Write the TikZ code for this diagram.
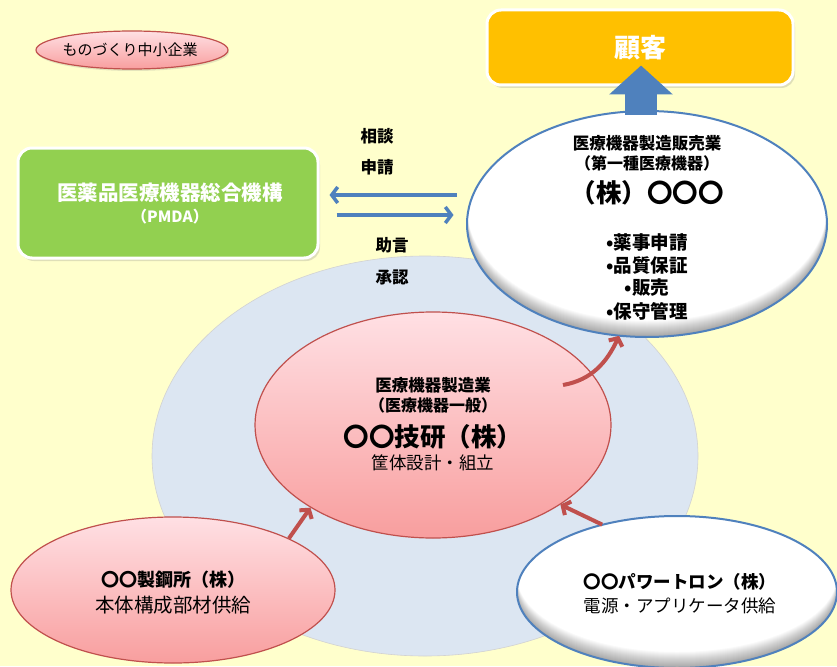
\documentclass[tikz,border=0pt]{standalone}
\usepackage{fontspec}
\setmainfont{Noto Sans CJK JP}
\usetikzlibrary{shapes.geometric,arrows.meta,shadows,calc}
\definecolor{bg}{RGB}{255,255,204}
\definecolor{pmdagreen}{RGB}{146,208,80}
\definecolor{gold}{RGB}{255,192,0}
\definecolor{accblue}{RGB}{79,129,189}
\definecolor{accred}{RGB}{192,80,77}
\definecolor{paleblue}{RGB}{220,230,242}
\definecolor{pinktop}{RGB}{255,224,228}
\definecolor{pinkbot}{RGB}{248,158,158}
\begin{document}
\begin{tikzpicture}[x=1pt,y=-1pt,
  txt/.style={font=\fontsize{#1pt}{#1pt}\selectfont, inner sep=0pt},
  btxt/.style={font=\fontsize{#1pt}{#1pt}\selectfont\bfseries, inner sep=0pt},
  pinkell/.style={ellipse, draw=accred, line width=1.2pt, top color=pinktop, bottom color=pinkbot, inner sep=0pt},
  whiteell/.style={ellipse, fill=white, inner sep=0pt},
  box/.style={rounded corners=14pt, draw=white, line width=3pt, inner sep=0pt,
     drop shadow={opacity=0.25, shadow xshift=2pt, shadow yshift=-3pt}},
  redarr/.style={draw=accred, line width=4pt, -{Straight Barb[length=6pt,width=15pt]}},
  bluearr/.style={draw=accblue, line width=3.5pt, -{Straight Barb[length=6pt,width=16pt]}},
]
\fill[bg] (0,0) rectangle (837,666);
\useasboundingbox (0,0) rectangle (837,666);

% zone
\node[ellipse, fill=paleblue, draw=gray!35, line width=0.6pt, minimum width=546pt, minimum height=400pt, inner sep=0pt] (zone) at (425,456) {};

% small legend ellipse
\node[pinkell, minimum width=192pt, minimum height=38pt, drop shadow={opacity=0.2, shadow xshift=1pt, shadow yshift=-2pt}] (legend) at (132,50) {};
\node[txt=15] (legendt) at (130,50) {ものづくり中小企業};

% PMDA
\node[box, fill=pmdagreen, minimum width=300pt, minimum height=110pt] (pmda) at (168,203) {};
\node[btxt=20.5, text=white] (pmdat1) at (170,193) {医薬品医療機器総合機構};
\node[btxt=15.5, text=white] (pmdat2) at (170,217) {（PMDA）};

% customer
\node[box, fill=gold, minimum width=306pt, minimum height=75pt] (cust) at (640,47.5) {};
\node[btxt=26, text=white] (custt) at (640,48) {顧客};

% central
\node[pinkell, minimum width=356pt, minimum height=226pt] (giken) at (433,425) {};
\node[btxt=16.5] (gt1) at (433,385) {医療機器製造業};
\node[btxt=16] (gt2) at (433,405) {（医療機器一般）};
\node[btxt=25.5] (gt3) at (433,437) {〇〇技研（株）};
\node[txt=17.5] (gt4) at (433,463) {筐体設計・組立};

% steel
\node[pinkell, minimum width=324pt, minimum height=146pt] (steel) at (173,590) {};
\node[btxt=18] (st1) at (173,580) {〇〇製鋼所（株）};
\node[txt=19.5] (st2) at (173,605) {本体構成部材供給};

% power
\node[whiteell, minimum width=320pt, minimum height=152pt] (power) at (677,592) {};
\begin{scope}
  \clip (power.center) ellipse [x radius=160pt, y radius=76pt];
  \foreach \s in {1,...,16}
    \fill[black, opacity=0.022, even odd rule] (power.center) ellipse [x radius=160pt, y radius=76pt]
       ($(power.center)+(0,-\s)$) ellipse [x radius=160pt, y radius=76pt];
\end{scope}
\draw[accblue, line width=2pt] (power.center) ellipse [x radius=160pt, y radius=76pt];
\node[btxt=17.5] (pt1) at (680,582) {〇〇パワートロン（株）};
\node[txt=17.5] (pt2) at (680,606) {電源・アプリケータ供給};

% maker
\node[whiteell, minimum width=360pt, minimum height=226pt] (maker) at (647,224) {};
\begin{scope}
  \clip (maker.center) ellipse [x radius=180pt, y radius=113pt];
  \foreach \s in {1,...,16}
    \fill[black, opacity=0.022, even odd rule] (maker.center) ellipse [x radius=180pt, y radius=113pt]
       ($(maker.center)+(0,-\s)$) ellipse [x radius=180pt, y radius=113pt];
\end{scope}
\draw[accblue, line width=2pt] (maker.center) ellipse [x radius=180pt, y radius=113pt];
\node[btxt=16.5] (mt1) at (647,143) {医療機器製造販売業};
\node[btxt=16] (mt2) at (647,163) {（第一種医療機器）};
\node[btxt=25.5] (mt3) at (647,193) {（株）〇〇〇};
\node[btxt=18.5] (mt4) at (647,242) {•薬事申請};
\node[btxt=18.5] (mt5) at (647,266) {•品質保証};
\node[btxt=18.5] (mt6) at (647,288) {•販売};
\node[btxt=18.5] (mt7) at (647,311) {•保守管理};

% block arrow maker -> customer
\draw[draw=accblue, line width=32pt, -{Triangle[length=29pt,width=62pt]}]
  ([xshift=-6pt,yshift=-4pt]maker.north) -- ([xshift=1pt,yshift=21pt]cust.south);

% PMDA arrows
\draw[bluearr] ([xshift=137pt,yshift=8pt]pmda.east) -- ([xshift=10pt,yshift=8pt]pmda.east);
\draw[bluearr] ([xshift=17pt,yshift=-12pt]pmda.east) -- ([xshift=134pt,yshift=-12pt]pmda.east);
\node[btxt=16.5] (l1) at (377,136) {相談};
\node[btxt=16.5] (l2) at (377,167) {申請};
\node[btxt=16.5] (l3) at (392,245) {助言};
\node[btxt=16.5] (l4) at (392,277) {承認};

% red arrows
\draw[redarr] (steel.24.5) -- (giken.214);
\draw[redarr] (power.138) -- (giken.-32);
\coordinate (gstart) at (563,385);
\draw[redarr] (gstart) to[out=10,in=-115] (maker.256);
\end{tikzpicture}
\end{document}
